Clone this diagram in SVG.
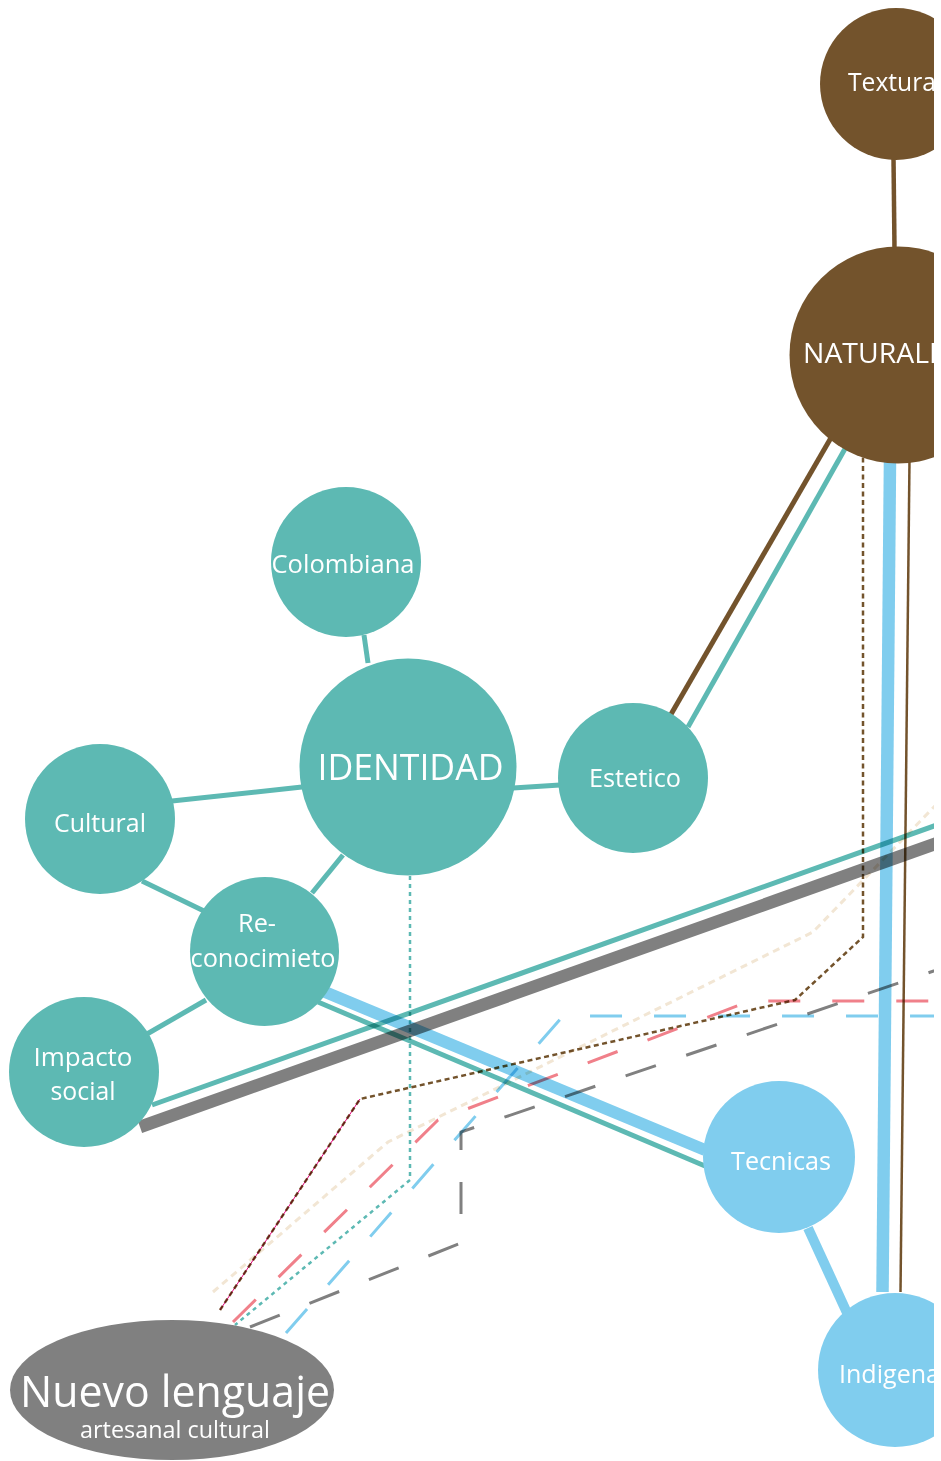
<svg xmlns="http://www.w3.org/2000/svg" width="941" height="1461" viewBox="0 0 941 1461">
<defs>
<clipPath id="clip"><rect x="0" y="0" width="934" height="1461"/></clipPath>
</defs>
<style>
.teal{fill:#5db9b3}
.brown{fill:#73532c}
.blue{fill:#80cdee}
.gray{fill:#808080}
.lbl{font-family:"Open Sans","Liberation Sans",sans-serif;fill:#fff;text-anchor:middle}
.c{fill:none;mix-blend-mode:multiply;stroke-linecap:butt}
.st{stroke:#5db9b3;stroke-width:5}
.sb{stroke:#80cdee}
.sbr{stroke:#73532c}
</style>
<rect width="941" height="1461" fill="#fff"/>
<g clip-path="url(#clip)">
<g id="connectors">
  <line class="c sbr" x1="893.5" y1="158" x2="894.5" y2="249" stroke-width="4.5"/>
  <line class="c sbr" x1="670" y1="716" x2="832" y2="436" stroke-width="5"/>
  <line class="c st" x1="688" y1="727" x2="846" y2="447"/>
  <line class="c sb" x1="890" y1="460" x2="882.5" y2="1292" stroke-width="12.5"/>
  <line class="c sbr" x1="909.5" y1="460" x2="900.5" y2="1292" stroke-width="2.5"/>
  <line class="c st" x1="364" y1="635" x2="368" y2="663"/>
  <line class="c st" x1="172" y1="801" x2="302" y2="787"/>
  <line class="c st" x1="513" y1="788" x2="560" y2="785"/>
  <line class="c st" x1="343" y1="855" x2="312" y2="893"/>
  <line class="c st" x1="142" y1="881" x2="204" y2="911"/>
  <line class="c st" x1="147" y1="1034" x2="206" y2="1000"/>
  <line class="c st" x1="318" y1="1002" x2="705" y2="1166"/>
  <line class="c sb" x1="325" y1="992" x2="705" y2="1150" stroke-width="12"/>
  <line class="c sb" x1="808" y1="1228" x2="848" y2="1315" stroke-width="10"/>
  <line class="c st" x1="152" y1="1105" x2="960" y2="816.7"/>
  <line class="c" x1="140" y1="1127" x2="960" y2="835" stroke="#808080" stroke-width="12.5"/>
  <path class="c" d="M213,1292 L388,1142 L813,932 L960,780" stroke="#f2e6d4" stroke-width="3" stroke-dasharray="7 5"/>
  <path class="c" d="M220,1310 L360,1099" stroke="#e4007c" stroke-width="1"/>
  <path class="c" d="M220,1310 L360,1099 L795,1000 L863,937 L863,455" stroke="#73532c" stroke-width="2.5" stroke-dasharray="5 3.5"/>
  <path class="c" d="M233,1322 L438,1120 L750,1001 L960,1001" stroke="#f0808a" stroke-width="3" stroke-dasharray="32 32"/>
  <path class="c" d="M410,876 L410,1180 L235,1325" stroke="#5db9b3" stroke-width="2.5" stroke-dasharray="4 4"/>
  <path class="c" d="M286,1333 L563,1016 L960,1016" stroke="#80cdee" stroke-width="3" stroke-dasharray="32 32"/>
  <path class="c" d="M250,1327 L461,1243 L461,1132 L960,962" stroke="#808080" stroke-width="3" stroke-dasharray="32 32"/>
</g>
<g id="textura"><circle class="brown" cx="896" cy="84" r="76"/><text class="lbl" x="848" y="91" font-size="26" style="text-anchor:start" textLength="88" lengthAdjust="spacingAndGlyphs">Textura</text></g>
<g id="naturaleza"><circle class="brown" cx="898" cy="355" r="108.5"/><text class="lbl" x="803" y="363" font-size="27" style="text-anchor:start" textLength="176" lengthAdjust="spacingAndGlyphs">NATURALEZA</text></g>
<g id="colombiana"><circle class="teal" cx="346" cy="562" r="75"/><text class="lbl" x="343" y="573" font-size="26" textLength="143" lengthAdjust="spacingAndGlyphs">Colombiana</text></g>
<g id="identidad"><circle class="teal" cx="408" cy="767" r="108.5"/><text class="lbl" x="410.5" y="780" font-size="37" textLength="186" lengthAdjust="spacingAndGlyphs">IDENTIDAD</text></g>
<g id="estetico"><circle class="teal" cx="633" cy="778" r="75"/><text class="lbl" x="635" y="787" font-size="26" textLength="92" lengthAdjust="spacingAndGlyphs">Estetico</text></g>
<g id="cultural"><circle class="teal" cx="100" cy="819" r="75"/><text class="lbl" x="100" y="832" font-size="26" textLength="92" lengthAdjust="spacingAndGlyphs">Cultural</text></g>
<g id="reconocimiento"><circle class="teal" cx="264.5" cy="951.5" r="74.5"/><text class="lbl" x="257" y="932" font-size="26" textLength="38" lengthAdjust="spacingAndGlyphs">Re-</text><text class="lbl" x="263" y="967" font-size="26" textLength="145" lengthAdjust="spacingAndGlyphs">conocimieto</text></g>
<g id="impacto"><circle class="teal" cx="84" cy="1072" r="75"/><text class="lbl" x="83" y="1066" font-size="26" textLength="99" lengthAdjust="spacingAndGlyphs">Impacto</text><text class="lbl" x="83" y="1100" font-size="26" textLength="65" lengthAdjust="spacingAndGlyphs">social</text></g>
<g id="tecnicas"><circle class="blue" cx="779" cy="1157" r="76"/><text class="lbl" x="781" y="1170" font-size="26" textLength="100" lengthAdjust="spacingAndGlyphs">Tecnicas</text></g>
<g id="indigena"><circle class="blue" cx="895" cy="1370" r="77"/><text class="lbl" x="839" y="1383" font-size="26" style="text-anchor:start" textLength="101" lengthAdjust="spacingAndGlyphs">Indigena</text></g>
<g id="nuevo-lenguaje"><ellipse class="gray" cx="172" cy="1390" rx="162" ry="70"/><text class="lbl" x="175" y="1407" font-size="44" textLength="310" lengthAdjust="spacingAndGlyphs">Nuevo lenguaje</text><text class="lbl" x="175" y="1438" font-size="24" textLength="190" lengthAdjust="spacingAndGlyphs">artesanal cultural</text></g>
</g>
</svg>
